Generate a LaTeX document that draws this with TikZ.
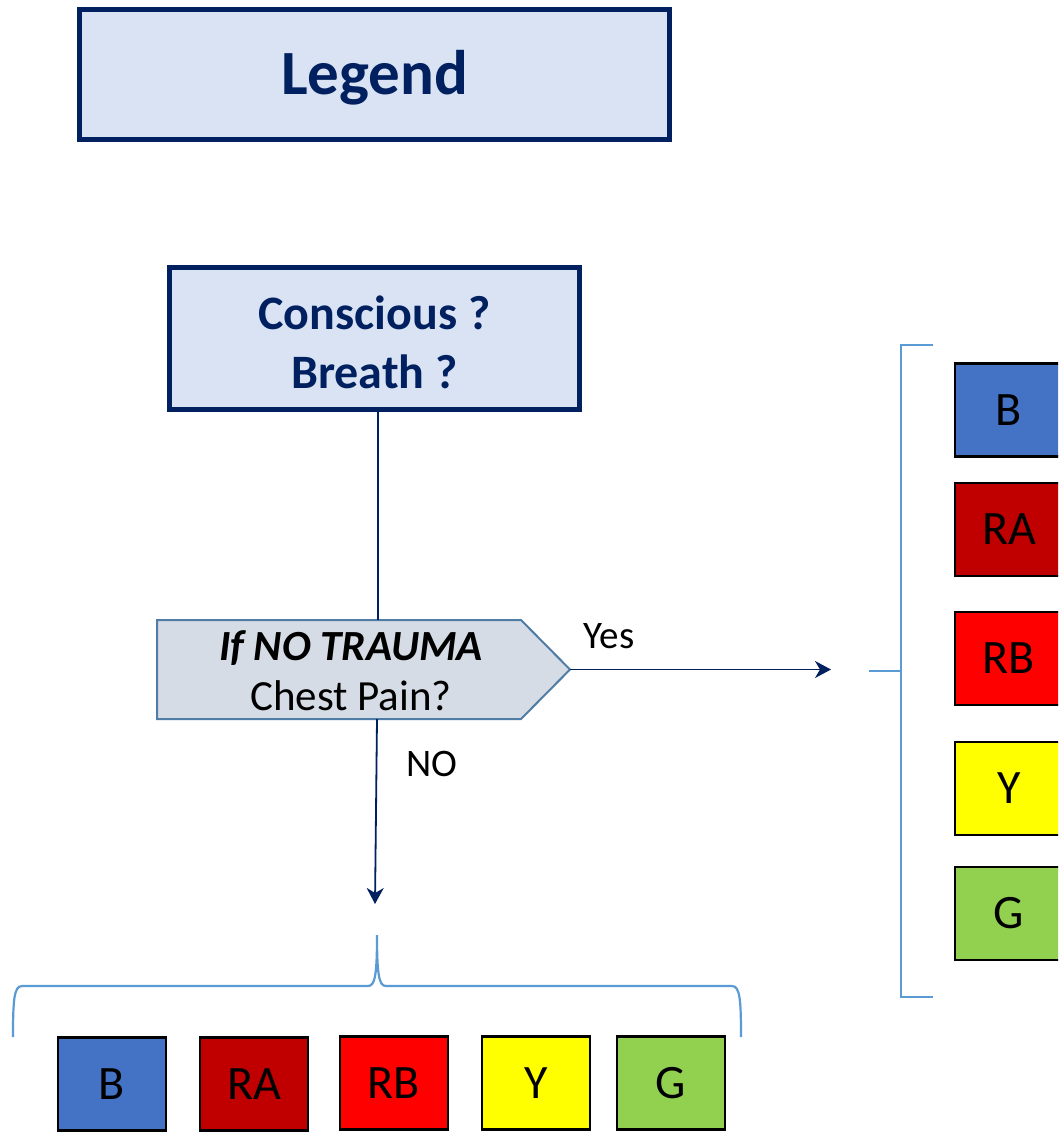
\documentclass[tikz,border=0pt]{standalone}
\usepackage{fontspec}
\setmainfont{Carlito}
\usetikzlibrary{arrows.meta}
\definecolor{navy}{HTML}{002060}
\definecolor{lightbox}{HTML}{DAE3F3}
\definecolor{pentfill}{HTML}{D6DCE5}
\definecolor{pentline}{HTML}{4F7DA6}
\definecolor{brace}{HTML}{5B9BD5}
\definecolor{cB}{HTML}{4472C4}
\definecolor{cRA}{HTML}{C00000}
\definecolor{cRB}{HTML}{FF0000}
\definecolor{cY}{HTML}{FFFF00}
\definecolor{cG}{HTML}{92D050}
\begin{document}
\begin{tikzpicture}[x=1pt,y=-1pt,
  titlebox/.style={draw=navy, line width=5pt, fill=lightbox, text=navy, font=\bfseries, align=center, inner sep=0pt},
  colbox/.style={draw=black, line width=2.5pt, minimum width=108pt, minimum height=93pt, inner sep=0pt, font=\fontsize{48}{52}\selectfont},
  conn/.style={draw=navy, line width=1.8pt},
  arr/.style={conn, -{Stealth[length=16pt,width=17pt,inset=5pt]}},
  bracket/.style={draw=brace, line width=2.2pt},
  lbl/.style={font=\fontsize{39}{44}\selectfont, inner sep=0pt}
]
\clip (0,0) rectangle (1058,1132);
\fill[white] (0,0) rectangle (1058,1132);

% Legend title
\node[titlebox, minimum width=590pt, minimum height=130pt, font=\bfseries\fontsize{63}{70}\selectfont] (legend) at (374.5,74.5) {};
\node[text=navy, font=\bfseries\fontsize{63}{70}\selectfont, inner sep=0pt] (legendtxt) at (374.5,78) {Legend};

% Conscious / Breath box
\node[titlebox, minimum width=410pt, minimum height=142pt] (cons) at (374.5,338.5) {};
\node[text=navy, align=center, font=\bfseries\fontsize{48}{59}\selectfont, inner sep=0pt] (constxt) at (374.5,342) {Conscious ?\\ Breath ?};

% Pentagon decision
\coordinate (pNW) at (157,620);
\coordinate (pNE) at (521,620);
\coordinate (pTip) at (570,669.5);
\coordinate (pSE) at (521,719);
\coordinate (pSW) at (157,719);
\coordinate (pTop) at (378,620);
\coordinate (pBot) at (377,719);
\draw[draw=pentline, fill=pentfill, line width=2pt, line join=miter] (pNW) -- (pNE) -- (pTip) -- (pSE) -- (pSW) -- cycle;
\node[align=center, font=\fontsize{43}{50}\selectfont, inner sep=0pt] (pent) at (351,671) {\textbf{\textit{If NO TRAUMA}}\\ Chest Pain?};

% connectors
\draw[conn] (cons.south -| pTop) -- (pTop);
\coordinate (yesEnd) at (831,669.5);
\draw[arr] (pTip) -- (yesEnd);
\node[lbl] (yes) at (609,636) {Yes};
\coordinate (noEnd) at (375,904);
\draw[arr] (pBot) -- (noEnd);
\node[lbl] (no) at (432,764) {NO};

% bottom brace
\coordinate (bL) at (13,1037);
\coordinate (bR) at (741,1037);
\coordinate (bTip) at (377,935);
\draw[bracket] (bL) .. controls (13,1000) and (14,986) .. (22,986) -- (368,986)
  .. controls (375,986) and (377,975) .. (bTip)
  .. controls (377,975) and (379,986) .. (386,986) -- (732,986)
  .. controls (740,986) and (741,1000) .. (bR);

% right bracket
\coordinate (rTop) at (933,345);
\coordinate (rBot) at (933,997);
\coordinate (rMid) at (869,671);
\draw[bracket] (rTop) -- (901,345) -- (901,997) -- (rBot);
\draw[bracket] (rMid) -- (901,671);

% bottom colour boxes
\node[colbox, fill=cB] (bB) at (112,1084) {B};
\node[colbox, fill=cRA] (bRA) at (254,1084) {RA};
\node[colbox, fill=cRB] (bRB) at (394,1083) {RB};
\node[colbox, fill=cY] (bY) at (536,1083) {Y};
\node[colbox, fill=cG] (bG) at (671,1083) {G};

% right colour boxes
\node[colbox, fill=cB] (rB) at (1009,410) {B};
\node[colbox, fill=cRA] (rRA) at (1009,529.5) {RA};
\node[colbox, fill=cRB] (rRB) at (1009,658.5) {RB};
\node[colbox, fill=cY] (rY) at (1009,788.5) {Y};
\node[colbox, fill=cG] (rG) at (1009,913.5) {G};
\end{tikzpicture}
\end{document}
